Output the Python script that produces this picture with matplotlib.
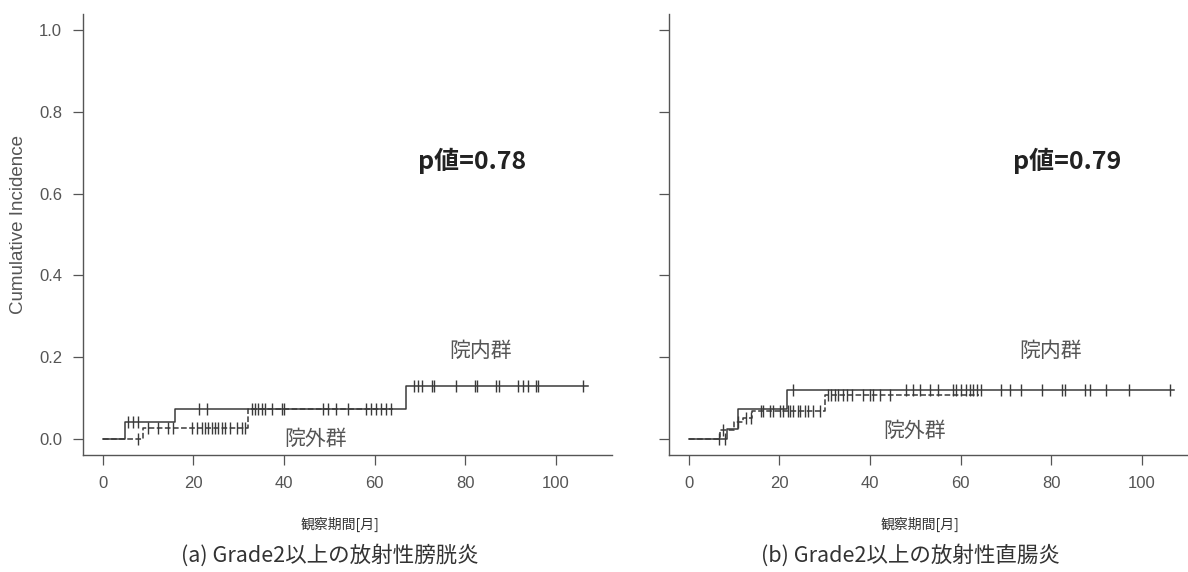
#!/usr/bin/env python3
"""
Cumulative incidence of grade 2+ radiation cystitis / proctitis,
in-hospital vs. out-of-hospital group.
"""

import numpy as np
import matplotlib
matplotlib.use('Agg')
import matplotlib.pyplot as plt

W, H = 1188, 572
LINE = '#3a3a3a'
TEXT = '#555555'

plt.rcParams['font.family'] = ['Liberation Sans', 'Noto Sans CJK JP', 'DejaVu Sans']
CJK = ['Noto Sans CJK JP', 'DejaVu Sans']

# (a) bladder: step times / cumulative incidence, last follow-up, censor times
in_times_a = [0, 5, 16, 67]
in_vals_a = [0.0, 0.04, 0.073, 0.13]
in_end_a = 107
in_cens_a = [5.7, 6.6, 7.9, 21.2, 23.0, 68.6, 69.5, 70.4, 72.6, 73.0, 77.9,
             82.2, 82.6, 86.8, 87.3, 91.7, 92.8, 93.9, 95.6, 96.1, 105.9]

out_times_a = [0, 8.8, 32]
out_vals_a = [0.0, 0.027, 0.073]
out_end_a = 64
out_cens_a = [7.8, 10.0, 12.3, 14.5, 15.6, 19.7, 20.8, 22.0, 22.6, 23.2, 24.1,
              24.8, 25.4, 26.3, 27.0, 28.0, 29.6, 30.7, 31.4, 32.9, 33.6, 34.2,
              35.1, 35.7, 37.3, 39.5, 40.1, 48.5, 49.6, 51.5, 54.0, 58.1, 59.2,
              60.3, 61.4, 62.5, 63.6]
p_text_a = 'p値=0.78'

# (b) rectum
in_times_b = [0, 8.4, 11, 21.8]
in_vals_b = [0.0, 0.024, 0.073, 0.118]
in_end_b = 107
in_cens_b = [8.0, 23.0, 48.0, 49.5, 51.0, 53.2, 55.0, 58.2, 58.9, 60.0, 61.1,
             62.0, 62.6, 63.7, 64.4, 68.8, 70.8, 73.2, 78.0, 82.4, 83.1, 87.5,
             88.4, 92.0, 97.1, 106.2]

out_times_b = [0, 7, 10, 12, 14, 30]
out_vals_b = [0.0, 0.02, 0.04, 0.05, 0.068, 0.106]
out_end_b = 64
out_cens_b = [6.8, 7.6, 11.0, 12.6, 13.8, 16.0, 16.5, 18.0, 18.7, 20.2, 20.9,
              22.0, 22.4, 23.0, 24.2, 24.6, 25.7, 26.4, 27.5, 29.0, 30.8, 31.5,
              32.2, 33.0, 34.0, 35.0, 36.0, 38.5, 40.0, 40.7, 42.2, 44.4]
p_text_b = 'p値=0.79'

x_ticks = [0, 20, 40, 60, 80, 100]
y_ticks = [0.0, 0.2, 0.4, 0.6, 0.8, 1.0]
x_label = '観察期間[月]'
y_label = 'Cumulative Incidence'
captions = ['(a) Grade2以上の放射性膀胱炎', '(b) Grade2以上の放射性直腸炎']
group_names = ['院内群', '院外群']


def px(x, y):
    """pixel position -> figure fraction"""
    return x / W, 1 - y / H


def draw_curve(ax, times, vals, end, cens, ls):
    t = list(times) + [end]
    v = list(vals) + [vals[-1]]
    ax.step(t, v, where='post', color=LINE, lw=1.1, ls=ls)
    idx = np.searchsorted(times, cens, side='right') - 1
    ax.plot(cens, np.array(vals)[idx], ls='none', marker='|', ms=8,
            mew=1.0, color=LINE)


def setup_axes(ax, ylabels=True):
    ax.set_xlim(-4.32, 112.32)
    ax.set_ylim(-0.04, 1.04)
    for s in ['top', 'right']:
        ax.spines[s].set_visible(False)
    for s in ['left', 'bottom']:
        ax.spines[s].set_color('#555555')
        ax.spines[s].set_linewidth(1.0)
    ax.set_xticks(x_ticks)
    ax.set_yticks(y_ticks)
    ax.tick_params(direction='out', length=7, width=0.9, colors='#555555',
                   labelsize=12, labelcolor=TEXT, pad=8)
    if ylabels:
        ax.set_yticklabels([f'{v:.1f}' for v in y_ticks])
    else:
        ax.set_yticklabels([])


fig = plt.figure(figsize=(W / 100, H / 100), dpi=100)
ax1 = fig.add_axes([83 / W, 1 - 455 / H, 529 / W, 441 / H])
ax2 = fig.add_axes([669 / W, 1 - 455 / H, 529 / W, 441 / H])

setup_axes(ax1, True)
setup_axes(ax2, False)
fig.text(*px(19, 225), y_label, rotation=90, ha='center', va='center',
         fontsize=13.5, color=TEXT)

draw_curve(ax1, in_times_a, in_vals_a, in_end_a, in_cens_a, '-')
draw_curve(ax1, out_times_a, out_vals_a, out_end_a, out_cens_a, '--')
draw_curve(ax2, in_times_b, in_vals_b, in_end_b, in_cens_b, '-')
draw_curve(ax2, out_times_b, out_vals_b, out_end_b, out_cens_b, '--')

# p values and group labels
ax1.text(81.5, 0.68, p_text_a, ha='center', va='center', fontsize=18,
         fontweight='bold', color='#222222', family=CJK)
ax2.text(83.5, 0.68, p_text_b, ha='center', va='center', fontsize=18,
         fontweight='bold', color='#222222', family=CJK)

ax1.text(83.3, 0.215, group_names[0], ha='center', va='center', fontsize=15,
         color=TEXT, family=CJK)
ax1.text(47, 0.0, group_names[1], ha='center', va='center', fontsize=15,
         color=TEXT, family=CJK)
ax2.text(79.8, 0.215, group_names[0], ha='center', va='center', fontsize=15,
         color=TEXT, family=CJK)
ax2.text(49.8, 0.02, group_names[1], ha='center', va='center', fontsize=15,
         color=TEXT, family=CJK)

# axis titles and panel captions
fig.text(*px(340, 524), x_label, ha='center', va='center', fontsize=10,
         color='#333333', family=CJK)
fig.text(*px(920, 524), x_label, ha='center', va='center', fontsize=10,
         color='#333333', family=CJK)
fig.text(*px(330, 555), captions[0], ha='center', va='center', fontsize=15.5,
         color='#333333', family=CJK)
fig.text(*px(910, 555), captions[1], ha='center', va='center', fontsize=15.5,
         color='#333333', family=CJK)

fig.savefig('out.png', dpi=100)
plt.close(fig)
